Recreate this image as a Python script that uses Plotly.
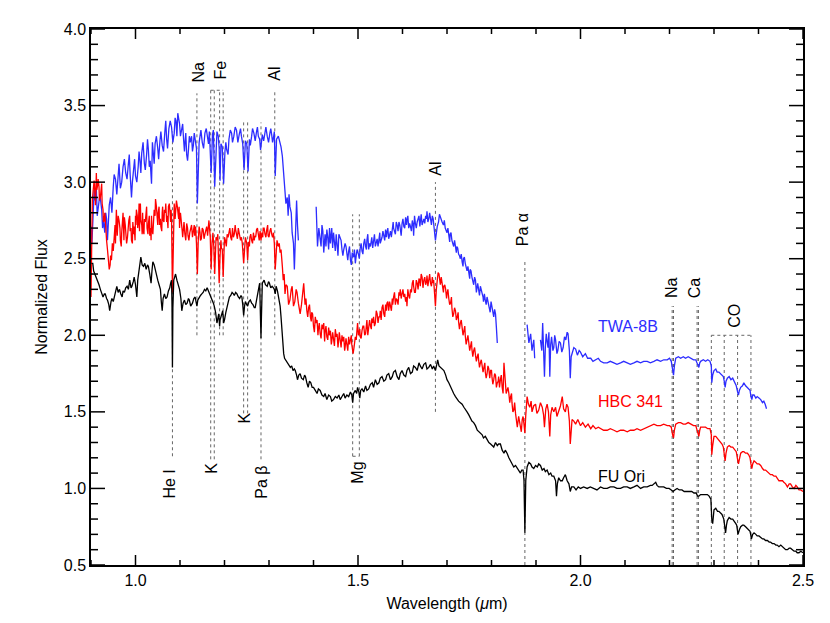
import numpy as np
import plotly.graph_objects as go

# near-infrared spectra (wavelength in micron, normalized flux)
# None marks a gap in the spectrum (telluric bands)
twa8b = [
    (0.900, 2.71), (0.905, 2.80), (0.909, 2.88), (0.912, 2.96), (0.917, 2.86), (0.924, 2.82), (0.928, 2.75),
    (0.931, 2.67), (0.935, 2.76), (0.939, 2.73), (0.944, 2.90), (0.950, 2.97), (0.955, 3.02), (0.961, 3.04),
    (0.966, 2.96), (0.972, 3.10), (0.978, 3.06), (0.984, 3.12), (0.988, 3.05), (0.991, 2.90), (0.995, 3.08),
    (1.000, 3.04), (1.006, 3.10), (1.010, 3.14), (1.014, 3.19), (1.020, 3.12), (1.025, 3.18), (1.029, 3.21),
    (1.033, 3.14), (1.036, 2.99), (1.040, 3.20), (1.044, 3.25), (1.050, 3.22), (1.055, 3.27), (1.060, 3.24),
    (1.066, 3.33), (1.070, 3.28), (1.075, 3.35), (1.081, 3.36), (1.087, 3.32), (1.091, 3.40), (1.095, 3.45),
    (1.099, 3.38), (1.104, 3.34), (1.108, 3.28), (1.111, 3.25), (1.115, 3.18), (1.119, 3.21), (1.123, 3.26),
    (1.126, 3.30), (1.130, 3.24), (1.134, 3.27), (1.137, 3.22), (1.139, 2.86), (1.141, 3.20), (1.145, 3.30),
    (1.150, 3.26), (1.156, 3.32), (1.162, 3.29), (1.166, 3.33), (1.170, 3.06), (1.173, 3.31), (1.175, 3.34),
    (1.178, 2.97), (1.181, 3.28), (1.186, 3.30), (1.190, 3.01), (1.192, 3.25), (1.195, 3.23), (1.198, 2.99),
    (1.201, 3.20), (1.205, 3.21), (1.210, 3.28), (1.216, 3.32), (1.221, 3.30), (1.227, 3.34), (1.233, 3.31),
    (1.238, 3.30), (1.241, 3.25), (1.244, 3.08), (1.247, 3.27), (1.250, 3.25), (1.253, 3.07), (1.256, 3.28),
    (1.261, 3.30), (1.266, 3.32), (1.272, 3.33), (1.276, 3.30), (1.281, 3.21), (1.285, 3.31), (1.291, 3.33),
    (1.296, 3.30), (1.302, 3.32), (1.306, 3.31), (1.310, 3.29), (1.314, 3.04), (1.317, 3.28), (1.321, 3.30),
    (1.324, 3.27), (1.327, 3.23), (1.330, 3.17), (1.332, 3.10), (1.334, 3.02), (1.336, 2.97), (1.338, 2.86),
    (1.341, 2.90), (1.343, 2.78), (1.345, 2.92), (1.347, 2.84), (1.350, 2.80), (1.352, 2.67), (1.355, 2.60),
    (1.357, 2.43), (1.360, 2.70), (1.362, 2.88), (1.364, 2.72), (1.366, 2.62), (1.380, None),
    (1.406, 2.84), (1.409, 2.58), (1.412, 2.70), (1.415, 2.64), (1.419, 2.72), (1.423, 2.54), (1.426, 2.66),
    (1.430, 2.69), (1.434, 2.56), (1.438, 2.60), (1.441, 2.70), (1.445, 2.67), (1.449, 2.55), (1.453, 2.58),
    (1.457, 2.66), (1.460, 2.64), (1.464, 2.56), (1.468, 2.56), (1.471, 2.60), (1.475, 2.53), (1.479, 2.55),
    (1.483, 2.49), (1.487, 2.54), (1.490, 2.51), (1.494, 2.47), (1.498, 2.56), (1.501, 2.53), (1.505, 2.57),
    (1.509, 2.55), (1.513, 2.60), (1.517, 2.58), (1.520, 2.62), (1.524, 2.56), (1.528, 2.58), (1.531, 2.64),
    (1.535, 2.61), (1.539, 2.58), (1.543, 2.63), (1.547, 2.65), (1.550, 2.60), (1.554, 2.64), (1.558, 2.64),
    (1.562, 2.69), (1.565, 2.67), (1.569, 2.63), (1.573, 2.68), (1.577, 2.72), (1.580, 2.70), (1.584, 2.66),
    (1.588, 2.72), (1.592, 2.74), (1.595, 2.68), (1.599, 2.73), (1.603, 2.71), (1.607, 2.77), (1.610, 2.75),
    (1.614, 2.70), (1.618, 2.71), (1.622, 2.75), (1.625, 2.65), (1.629, 2.73), (1.633, 2.74), (1.637, 2.78),
    (1.640, 2.75), (1.644, 2.72), (1.648, 2.76), (1.652, 2.78), (1.655, 2.81), (1.659, 2.76), (1.663, 2.75),
    (1.667, 2.78), (1.670, 2.73), (1.674, 2.62), (1.678, 2.71), (1.683, 2.79), (1.686, 2.76), (1.689, 2.74),
    (1.692, 2.72), (1.696, 2.70), (1.700, 2.67), (1.704, 2.64), (1.707, 2.66), (1.711, 2.62), (1.715, 2.58),
    (1.719, 2.56), (1.722, 2.58), (1.726, 2.53), (1.730, 2.50), (1.734, 2.48), (1.737, 2.50), (1.741, 2.47),
    (1.745, 2.42), (1.749, 2.40), (1.752, 2.43), (1.756, 2.38), (1.760, 2.33), (1.764, 2.36), (1.767, 2.31),
    (1.771, 2.30), (1.775, 2.32), (1.779, 2.28), (1.782, 2.22), (1.786, 2.23), (1.790, 2.25), (1.794, 2.19),
    (1.797, 2.15), (1.801, 2.19), (1.805, 2.12), (1.809, 2.14), (1.811, 2.05), (1.813, 1.95), (1.850, None),
    (1.880, 2.07), (1.884, 1.95), (1.888, 2.01), (1.891, 1.90), (1.895, 1.97), (1.897, 1.85), (1.903, None),
    (1.910, 1.97), (1.913, 1.90), (1.915, 2.08), (1.917, 1.95), (1.919, 1.73), (1.921, 1.92), (1.923, 2.01),
    (1.925, 1.96), (1.927, 1.92), (1.929, 2.02), (1.931, 1.73), (1.933, 1.94), (1.935, 1.99), (1.938, 1.90),
    (1.940, 1.92), (1.942, 2.00), (1.944, 1.97), (1.947, 1.88), (1.949, 1.90), (1.952, 1.96), (1.955, 1.95),
    (1.958, 1.89), (1.961, 1.92), (1.964, 1.99), (1.967, 1.97), (1.970, 2.02), (1.972, 2.01), (1.975, 1.90),
    (1.977, 1.72), (1.979, 1.86), (1.981, 1.88), (1.985, 1.92), (1.989, 1.91), (1.993, 1.87), (1.997, 1.90),
    (2.000, 1.89), (2.005, 1.86), (2.011, 1.88), (2.016, 1.85), (2.023, 1.85), (2.028, 1.83), (2.034, 1.84),
    (2.040, 1.85), (2.045, 1.83), (2.052, 1.82), (2.060, 1.82), (2.067, 1.83), (2.075, 1.82), (2.082, 1.81),
    (2.090, 1.82), (2.097, 1.83), (2.105, 1.82), (2.112, 1.81), (2.120, 1.82), (2.127, 1.83), (2.135, 1.82),
    (2.142, 1.83), (2.150, 1.83), (2.157, 1.82), (2.165, 1.83), (2.172, 1.84), (2.180, 1.83), (2.187, 1.84),
    (2.195, 1.84), (2.200, 1.85), (2.204, 1.83), (2.207, 1.76), (2.209, 1.74), (2.211, 1.80), (2.214, 1.85),
    (2.220, 1.86), (2.225, 1.85), (2.231, 1.86), (2.236, 1.85), (2.242, 1.86), (2.248, 1.85), (2.254, 1.84),
    (2.259, 1.84), (2.263, 1.81), (2.266, 1.79), (2.268, 1.82), (2.270, 1.83), (2.276, 1.84), (2.281, 1.83),
    (2.286, 1.84), (2.291, 1.83), (2.294, 1.80), (2.295, 1.69), (2.297, 1.74), (2.300, 1.77), (2.304, 1.78),
    (2.307, 1.76), (2.311, 1.76), (2.315, 1.75), (2.318, 1.74), (2.321, 1.73), (2.323, 1.70), (2.325, 1.66),
    (2.327, 1.70), (2.330, 1.72), (2.334, 1.73), (2.338, 1.71), (2.342, 1.72), (2.345, 1.70), (2.348, 1.69),
    (2.350, 1.67), (2.353, 1.63), (2.355, 1.61), (2.357, 1.64), (2.360, 1.66), (2.364, 1.67), (2.367, 1.69),
    (2.371, 1.67), (2.375, 1.66), (2.378, 1.65), (2.381, 1.64), (2.383, 1.60), (2.385, 1.58), (2.387, 1.61),
    (2.390, 1.61), (2.394, 1.59), (2.397, 1.60), (2.401, 1.59), (2.405, 1.58), (2.409, 1.56), (2.412, 1.57),
    (2.415, 1.55), (2.418, 1.52),
]
# extra readings of the noise envelope (upper / lower excursions) where the spectrum is ragged
twa8b_noise = [
    (0.902, 2.60), (0.907, 2.95), (0.914, 2.78), (0.920, 2.92), (0.926, 2.70), (0.933, 2.80), (0.937, 2.62),
    (0.941, 2.85), (0.947, 2.80), (0.952, 3.05), (0.958, 2.92), (0.963, 3.12), (0.969, 3.00), (0.975, 3.15),
    (0.981, 3.02), (0.986, 3.18), (0.993, 3.00), (0.998, 3.15), (1.003, 3.00), (1.008, 3.20), (1.012, 3.06),
    (1.017, 3.26), (1.022, 3.08), (1.027, 3.28), (1.031, 3.10), (1.038, 3.26), (1.042, 3.12), (1.047, 3.30),
    (1.052, 3.15), (1.057, 3.33), (1.063, 3.20), (1.068, 3.40), (1.072, 3.22), (1.078, 3.40), (1.084, 3.26),
    (1.089, 3.42), (1.093, 3.30), (1.097, 3.42), (1.101, 3.30), (1.106, 3.38), (1.110, 3.20), (1.113, 3.32),
    (1.117, 3.14), (1.121, 3.30), (1.128, 3.20), (1.132, 3.32), (1.143, 3.26), (1.147, 3.34), (1.153, 3.22),
    (1.159, 3.35), (1.164, 3.25), (1.183, 3.33), (1.188, 3.22), (1.203, 3.26), (1.208, 3.18), (1.213, 3.34),
    (1.218, 3.26), (1.224, 3.36), (1.230, 3.26), (1.236, 3.35), (1.258, 3.24), (1.263, 3.35), (1.269, 3.27),
    (1.274, 3.36), (1.279, 3.28), (1.288, 3.27), (1.293, 3.36), (1.299, 3.26), (1.304, 3.35), (1.308, 3.26),
    (1.312, 3.33), (1.417, 2.58), (1.421, 2.68), (1.428, 2.58), (1.432, 2.64), (1.436, 2.70), (1.443, 2.57),
    (1.447, 2.62), (1.451, 2.66), (1.455, 2.52), (1.462, 2.62), (1.466, 2.52), (1.473, 2.58), (1.477, 2.49),
    (1.481, 2.58), (1.485, 2.46), (1.492, 2.56), (1.496, 2.52), (1.503, 2.50), (1.507, 2.60), (1.511, 2.53),
    (1.515, 2.63), (1.519, 2.56), (1.522, 2.66), (1.526, 2.60), (1.533, 2.57), (1.537, 2.66), (1.541, 2.60),
    (1.545, 2.58), (1.549, 2.67), (1.552, 2.62), (1.556, 2.68), (1.560, 2.62), (1.564, 2.64), (1.567, 2.70),
    (1.571, 2.66), (1.575, 2.64), (1.579, 2.74), (1.582, 2.68), (1.586, 2.74), (1.590, 2.68), (1.594, 2.72),
    (1.597, 2.65), (1.601, 2.76), (1.605, 2.70), (1.609, 2.72), (1.612, 2.78), (1.616, 2.73), (1.620, 2.68),
    (1.624, 2.72), (1.627, 2.78), (1.631, 2.70), (1.635, 2.76), (1.639, 2.71), (1.642, 2.79), (1.646, 2.74),
    (1.650, 2.73), (1.654, 2.76), (1.657, 2.74), (1.661, 2.80), (1.665, 2.72), (1.669, 2.76), (1.681, 2.74),
    (1.694, 2.75), (1.698, 2.68), (1.702, 2.70), (1.706, 2.61), (1.709, 2.67), (1.713, 2.60), (1.717, 2.62),
    (1.721, 2.54), (1.724, 2.57), (1.728, 2.52), (1.732, 2.53), (1.736, 2.45), (1.739, 2.51), (1.743, 2.44),
    (1.747, 2.45), (1.751, 2.37), (1.754, 2.42), (1.758, 2.35), (1.762, 2.38), (1.766, 2.28), (1.769, 2.34),
    (1.773, 2.26), (1.777, 2.30), (1.781, 2.25), (1.784, 2.27), (1.788, 2.20), (1.792, 2.22), (1.796, 2.18),
    (1.799, 2.22), (1.803, 2.15), (1.807, 2.17),
]

hbc341 = [
    (0.900, 2.25), (0.901, 2.55), (0.903, 2.88), (0.905, 2.95), (0.907, 3.01), (0.909, 2.92), (0.912, 3.06),
    (0.915, 2.98), (0.918, 2.97), (0.921, 2.90), (0.924, 2.99), (0.927, 2.82), (0.930, 2.75), (0.933, 2.67),
    (0.937, 2.56), (0.939, 2.50), (0.941, 2.43), (0.944, 2.52), (0.946, 2.49), (0.949, 2.58), (0.952, 2.67),
    (0.955, 2.60), (0.957, 2.82), (0.960, 2.70), (0.963, 2.75), (0.966, 2.62), (0.969, 2.67), (0.972, 2.80),
    (0.975, 2.77), (0.978, 2.66), (0.980, 2.60), (0.983, 2.72), (0.985, 2.75), (0.988, 2.68), (0.991, 2.62),
    (0.994, 2.74), (0.997, 2.71), (1.000, 2.78), (1.002, 2.82), (1.005, 2.70), (1.008, 2.86), (1.010, 2.80),
    (1.012, 2.75), (1.015, 2.66), (1.017, 2.69), (1.020, 2.76), (1.023, 2.80), (1.026, 2.70), (1.029, 2.73),
    (1.032, 2.65), (1.035, 2.62), (1.037, 2.70), (1.040, 2.75), (1.042, 2.82), (1.045, 2.89), (1.048, 2.78),
    (1.051, 2.80), (1.054, 2.72), (1.057, 2.71), (1.060, 2.80), (1.062, 2.75), (1.065, 2.82), (1.068, 2.86),
    (1.071, 2.78), (1.074, 2.84), (1.077, 2.79), (1.080, 2.82), (1.083, 2.28), (1.085, 2.75), (1.087, 2.86),
    (1.090, 2.82), (1.092, 2.88), (1.095, 2.79), (1.098, 2.84), (1.100, 2.77), (1.102, 2.75), (1.105, 2.68),
    (1.107, 2.71), (1.111, 2.66), (1.115, 2.73), (1.118, 2.65), (1.122, 2.67), (1.126, 2.72), (1.130, 2.69),
    (1.133, 2.65), (1.135, 2.71), (1.137, 2.60), (1.139, 2.40), (1.141, 2.62), (1.145, 2.67), (1.148, 2.63),
    (1.152, 2.69), (1.156, 2.66), (1.160, 2.71), (1.163, 2.68), (1.165, 2.75), (1.168, 2.64), (1.170, 2.43),
    (1.172, 2.60), (1.174, 2.67), (1.176, 2.58), (1.178, 2.40), (1.180, 2.56), (1.183, 2.62), (1.186, 2.55),
    (1.188, 2.34), (1.190, 2.52), (1.192, 2.62), (1.195, 2.56), (1.197, 2.38), (1.199, 2.55), (1.202, 2.62),
    (1.206, 2.66), (1.210, 2.67), (1.214, 2.64), (1.218, 2.70), (1.222, 2.66), (1.225, 2.69), (1.229, 2.63),
    (1.233, 2.67), (1.236, 2.62), (1.238, 2.64), (1.240, 2.60), (1.243, 2.47), (1.245, 2.60), (1.247, 2.64),
    (1.250, 2.60), (1.252, 2.49), (1.254, 2.61), (1.257, 2.64), (1.261, 2.62), (1.265, 2.67), (1.268, 2.65),
    (1.272, 2.69), (1.276, 2.66), (1.280, 2.68), (1.282, 2.62), (1.284, 2.67), (1.287, 2.70), (1.291, 2.66),
    (1.295, 2.69), (1.298, 2.65), (1.302, 2.68), (1.306, 2.66), (1.310, 2.67), (1.312, 2.60), (1.314, 2.43),
    (1.316, 2.58), (1.318, 2.62), (1.321, 2.58), (1.323, 2.60), (1.325, 2.54), (1.327, 2.56), (1.330, 2.45),
    (1.332, 2.36), (1.334, 2.40), (1.336, 2.27), (1.338, 2.33), (1.341, 2.32), (1.344, 2.20), (1.347, 2.23),
    (1.350, 2.30), (1.352, 2.32), (1.355, 2.19), (1.358, 2.22), (1.361, 2.30), (1.363, 2.28), (1.366, 2.21),
    (1.370, 2.14), (1.373, 2.20), (1.376, 2.28), (1.378, 2.34), (1.381, 2.20), (1.385, 2.16), (1.389, 2.18),
    (1.393, 2.12), (1.396, 2.15), (1.400, 2.06), (1.404, 2.12), (1.408, 2.10), (1.411, 2.04), (1.415, 2.01),
    (1.419, 2.07), (1.423, 2.08), (1.426, 2.02), (1.430, 1.99), (1.434, 2.05), (1.438, 2.03), (1.441, 1.96),
    (1.445, 1.97), (1.449, 2.04), (1.453, 2.01), (1.456, 1.95), (1.460, 1.95), (1.464, 2.00), (1.468, 1.99),
    (1.471, 1.92), (1.475, 1.93), (1.479, 1.99), (1.483, 1.97), (1.486, 1.94), (1.489, 1.88), (1.492, 1.95),
    (1.494, 1.99), (1.497, 2.03), (1.499, 2.08), (1.502, 2.02), (1.505, 1.99), (1.509, 2.03), (1.513, 2.06),
    (1.517, 2.01), (1.520, 2.10), (1.524, 2.04), (1.528, 2.06), (1.531, 2.11), (1.535, 2.12), (1.539, 2.08),
    (1.543, 2.14), (1.547, 2.12), (1.550, 2.16), (1.554, 2.18), (1.558, 2.14), (1.562, 2.20), (1.565, 2.21),
    (1.569, 2.16), (1.573, 2.19), (1.577, 2.24), (1.580, 2.25), (1.584, 2.20), (1.588, 2.23), (1.592, 2.28),
    (1.595, 2.30), (1.599, 2.27), (1.603, 2.25), (1.607, 2.22), (1.610, 2.19), (1.614, 2.26), (1.618, 2.30),
    (1.622, 2.34), (1.625, 2.32), (1.629, 2.28), (1.633, 2.34), (1.637, 2.37), (1.640, 2.32), (1.644, 2.38),
    (1.648, 2.36), (1.652, 2.33), (1.655, 2.39), (1.659, 2.36), (1.663, 2.34), (1.667, 2.38), (1.670, 2.36),
    (1.672, 2.28), (1.674, 2.19), (1.676, 2.30), (1.680, 2.41), (1.683, 2.36), (1.687, 2.38), (1.690, 2.34),
    (1.693, 2.32), (1.697, 2.30), (1.700, 2.27), (1.704, 2.24), (1.708, 2.21), (1.711, 2.18), (1.715, 2.14),
    (1.719, 2.16), (1.723, 2.12), (1.726, 2.09), (1.730, 2.08), (1.734, 2.05), (1.738, 2.03), (1.741, 2.00),
    (1.745, 1.97), (1.749, 1.95), (1.753, 1.93), (1.756, 1.91), (1.760, 1.90), (1.764, 1.87), (1.768, 1.86),
    (1.771, 1.84), (1.775, 1.82), (1.779, 1.80), (1.783, 1.79), (1.786, 1.76), (1.790, 1.75), (1.794, 1.78),
    (1.798, 1.77), (1.801, 1.73), (1.805, 1.71), (1.809, 1.74), (1.813, 1.69), (1.816, 1.73), (1.820, 1.71),
    (1.824, 1.66), (1.828, 1.82), (1.831, 1.68), (1.835, 1.64), (1.839, 1.62), (1.843, 1.60), (1.846, 1.56),
    (1.850, 1.51), (1.854, 1.49), (1.858, 1.40), (1.861, 1.47), (1.864, 1.43), (1.867, 1.37), (1.869, 1.45),
    (1.871, 1.47), (1.873, 1.42), (1.875, 1.36), (1.877, 1.48), (1.880, 1.60), (1.883, 1.55), (1.886, 1.53),
    (1.889, 1.57), (1.891, 1.50), (1.895, 1.54), (1.899, 1.55), (1.902, 1.49), (1.906, 1.51), (1.910, 1.56),
    (1.914, 1.53), (1.917, 1.48), (1.919, 1.40), (1.922, 1.52), (1.925, 1.55), (1.928, 1.50), (1.931, 1.34),
    (1.933, 1.48), (1.936, 1.53), (1.940, 1.50), (1.944, 1.53), (1.947, 1.47), (1.951, 1.51), (1.955, 1.54),
    (1.959, 1.60), (1.962, 1.52), (1.966, 1.50), (1.969, 1.55), (1.972, 1.53), (1.975, 1.44), (1.977, 1.29),
    (1.979, 1.40), (1.981, 1.45), (1.985, 1.44), (1.989, 1.42), (1.994, 1.45), (2.000, 1.41), (2.005, 1.43),
    (2.011, 1.40), (2.017, 1.42), (2.023, 1.39), (2.028, 1.41), (2.034, 1.39), (2.040, 1.40), (2.045, 1.39),
    (2.052, 1.38), (2.060, 1.38), (2.067, 1.39), (2.075, 1.38), (2.082, 1.37), (2.090, 1.38), (2.097, 1.38),
    (2.105, 1.37), (2.112, 1.38), (2.120, 1.38), (2.127, 1.39), (2.135, 1.38), (2.142, 1.39), (2.150, 1.40),
    (2.157, 1.41), (2.165, 1.42), (2.172, 1.41), (2.180, 1.41), (2.187, 1.42), (2.195, 1.41), (2.200, 1.41),
    (2.204, 1.40), (2.207, 1.35), (2.209, 1.33), (2.211, 1.38), (2.214, 1.42), (2.220, 1.43), (2.225, 1.43),
    (2.231, 1.42), (2.236, 1.42), (2.242, 1.43), (2.248, 1.42), (2.254, 1.41), (2.259, 1.41), (2.263, 1.37),
    (2.266, 1.34), (2.268, 1.38), (2.270, 1.40), (2.276, 1.40), (2.281, 1.40), (2.286, 1.39), (2.291, 1.39),
    (2.294, 1.35), (2.295, 1.22), (2.297, 1.28), (2.300, 1.34), (2.304, 1.34), (2.307, 1.33), (2.311, 1.32),
    (2.315, 1.30), (2.318, 1.29), (2.321, 1.27), (2.323, 1.23), (2.325, 1.18), (2.327, 1.23), (2.330, 1.27),
    (2.334, 1.28), (2.338, 1.27), (2.342, 1.27), (2.345, 1.26), (2.348, 1.25), (2.350, 1.24), (2.353, 1.19),
    (2.355, 1.16), (2.357, 1.19), (2.360, 1.23), (2.364, 1.24), (2.367, 1.24), (2.371, 1.23), (2.375, 1.23),
    (2.378, 1.22), (2.381, 1.20), (2.383, 1.16), (2.385, 1.13), (2.387, 1.16), (2.390, 1.18), (2.394, 1.17),
    (2.397, 1.16), (2.401, 1.16), (2.405, 1.15), (2.409, 1.13), (2.412, 1.12), (2.416, 1.12), (2.420, 1.11),
    (2.424, 1.10), (2.427, 1.09), (2.431, 1.09), (2.435, 1.08), (2.439, 1.08), (2.442, 1.07), (2.446, 1.05),
    (2.450, 1.05), (2.454, 1.05), (2.457, 1.04), (2.461, 1.03), (2.465, 1.01), (2.469, 1.03), (2.472, 1.03),
    (2.476, 1.01), (2.480, 1.00), (2.484, 1.02), (2.487, 1.01), (2.491, 0.99), (2.495, 0.99), (2.500, 0.98),
]
hbc341_noise = [
    (0.910, 2.85), (0.913, 2.95), (0.916, 3.02), (0.919, 2.88), (0.922, 2.96), (0.925, 2.86), (0.928, 2.74),
    (0.931, 2.80), (0.935, 2.62), (0.943, 2.46), (0.948, 2.60), (0.950, 2.55), (0.954, 2.72), (0.959, 2.65),
    (0.961, 2.78), (0.965, 2.70), (0.968, 2.58), (0.971, 2.73), (0.974, 2.62), (0.977, 2.72), (0.982, 2.64),
    (0.987, 2.78), (0.990, 2.70), (0.993, 2.60), (0.996, 2.66), (0.999, 2.62), (1.001, 2.72), (1.004, 2.78),
    (1.007, 2.76), (1.009, 2.68), (1.011, 2.86), (1.014, 2.72), (1.016, 2.80), (1.019, 2.66), (1.022, 2.74),
    (1.025, 2.84), (1.028, 2.66), (1.031, 2.78), (1.034, 2.70), (1.036, 2.78), (1.039, 2.66), (1.041, 2.70),
    (1.044, 2.78), (1.047, 2.84), (1.050, 2.72), (1.053, 2.84), (1.056, 2.76), (1.059, 2.68), (1.061, 2.84),
    (1.064, 2.74), (1.067, 2.80), (1.070, 2.74), (1.073, 2.70), (1.076, 2.86), (1.079, 2.74), (1.081, 2.76),
    (1.086, 2.80), (1.089, 2.76), (1.091, 2.78), (1.094, 2.84), (1.097, 2.76), (1.099, 2.70), (1.101, 2.80),
    (1.104, 2.72), (1.106, 2.64), (1.109, 2.74), (1.113, 2.62), (1.117, 2.70), (1.120, 2.62), (1.124, 2.70),
    (1.128, 2.64), (1.132, 2.72), (1.143, 2.71), (1.146, 2.62), (1.150, 2.70), (1.154, 2.63), (1.158, 2.70),
    (1.162, 2.65), (1.181, 2.64), (1.185, 2.66), (1.193, 2.57), (1.200, 2.64), (1.204, 2.58), (1.208, 2.64),
    (1.212, 2.70), (1.216, 2.62), (1.220, 2.64), (1.224, 2.72), (1.227, 2.64), (1.231, 2.70), (1.234, 2.64),
    (1.256, 2.58), (1.259, 2.66), (1.263, 2.60), (1.267, 2.62), (1.270, 2.64), (1.274, 2.70), (1.278, 2.62),
    (1.286, 2.64), (1.289, 2.70), (1.293, 2.64), (1.297, 2.72), (1.300, 2.64), (1.304, 2.70), (1.308, 2.64),
    (1.383, 2.24), (1.387, 2.12), (1.391, 2.20), (1.395, 2.09), (1.398, 2.14), (1.402, 2.02), (1.406, 2.08),
    (1.410, 2.00), (1.413, 2.08), (1.417, 1.98), (1.421, 2.04), (1.425, 1.96), (1.428, 2.06), (1.432, 1.97),
    (1.436, 2.00), (1.440, 1.94), (1.443, 2.02), (1.447, 1.93), (1.451, 1.99), (1.455, 1.92), (1.458, 2.02),
    (1.462, 1.92), (1.466, 1.96), (1.470, 1.90), (1.473, 1.98), (1.477, 1.90), (1.481, 1.94), (1.485, 2.00),
    (1.491, 1.92), (1.496, 1.97), (1.501, 2.00), (1.504, 2.04), (1.507, 1.98), (1.511, 2.06), (1.515, 2.00),
    (1.518, 2.05), (1.522, 2.00), (1.526, 2.10), (1.530, 2.04), (1.533, 2.08), (1.537, 2.06), (1.541, 2.16),
    (1.545, 2.08), (1.549, 2.12), (1.552, 2.10), (1.556, 2.20), (1.560, 2.12), (1.564, 2.16), (1.567, 2.22),
    (1.571, 2.22), (1.575, 2.16), (1.578, 2.20), (1.582, 2.28), (1.586, 2.24), (1.590, 2.20), (1.594, 2.26),
    (1.597, 2.24), (1.601, 2.30), (1.605, 2.27), (1.609, 2.25), (1.612, 2.30), (1.616, 2.24), (1.620, 2.28),
    (1.624, 2.36), (1.627, 2.28), (1.631, 2.36), (1.635, 2.30), (1.639, 2.36), (1.642, 2.40), (1.646, 2.31),
    (1.650, 2.38), (1.654, 2.35), (1.657, 2.32), (1.661, 2.40), (1.665, 2.32), (1.669, 2.34), (1.678, 2.36),
    (1.682, 2.40), (1.685, 2.33), (1.688, 2.36), (1.692, 2.28), (1.695, 2.33), (1.699, 2.24), (1.702, 2.30),
    (1.706, 2.20), (1.710, 2.25), (1.713, 2.12), (1.717, 2.18), (1.721, 2.10), (1.725, 2.15), (1.728, 2.04),
    (1.732, 2.10), (1.736, 2.00), (1.740, 2.06), (1.743, 1.94), (1.747, 2.00), (1.751, 1.90), (1.755, 1.96),
    (1.758, 1.86), (1.762, 1.92), (1.766, 1.83), (1.770, 1.88), (1.773, 1.79), (1.777, 1.84), (1.781, 1.76),
    (1.785, 1.82), (1.788, 1.72), (1.792, 1.80), (1.796, 1.72), (1.800, 1.77), (1.803, 1.68), (1.807, 1.75),
    (1.811, 1.66), (1.815, 1.70), (1.818, 1.66), (1.822, 1.74), (1.826, 1.62), (1.833, 1.62), (1.837, 1.66),
    (1.841, 1.56), (1.845, 1.62), (1.848, 1.50), (1.852, 1.56), (1.856, 1.45),
]

fuori = [
    (0.901, 2.47), (0.904, 2.47), (0.906, 2.42), (0.909, 2.40), (0.912, 2.38), (0.915, 2.36), (0.918, 2.33),
    (0.921, 2.30), (0.924, 2.28), (0.927, 2.25), (0.930, 2.27), (0.932, 2.27), (0.935, 2.24), (0.937, 2.23),
    (0.940, 2.20), (0.942, 2.16), (0.945, 2.22), (0.947, 2.24), (0.950, 2.22), (0.952, 2.25), (0.955, 2.28),
    (0.958, 2.32), (0.961, 2.28), (0.964, 2.30), (0.967, 2.27), (0.970, 2.25), (0.972, 2.29), (0.975, 2.28),
    (0.978, 2.31), (0.981, 2.32), (0.984, 2.30), (0.987, 2.36), (0.990, 2.31), (0.992, 2.32), (0.995, 2.35),
    (0.997, 2.38), (1.000, 2.33), (1.003, 2.25), (1.005, 2.36), (1.008, 2.43), (1.010, 2.47), (1.012, 2.51),
    (1.015, 2.46), (1.018, 2.45), (1.021, 2.47), (1.024, 2.43), (1.027, 2.46), (1.029, 2.45), (1.032, 2.40),
    (1.035, 2.34), (1.037, 2.42), (1.039, 2.48), (1.042, 2.46), (1.044, 2.43), (1.047, 2.40), (1.050, 2.36),
    (1.053, 2.33), (1.056, 2.30), (1.058, 2.22), (1.060, 2.16), (1.062, 2.24), (1.065, 2.27), (1.068, 2.24),
    (1.071, 2.25), (1.074, 2.29), (1.077, 2.31), (1.079, 2.34), (1.081, 2.36), (1.082, 2.20), (1.083, 1.79),
    (1.084, 2.18), (1.086, 2.36), (1.088, 2.38), (1.090, 2.40), (1.093, 2.36), (1.095, 2.34), (1.097, 2.32),
    (1.099, 2.30), (1.102, 2.24), (1.104, 2.16), (1.107, 2.21), (1.110, 2.23), (1.113, 2.20), (1.116, 2.21),
    (1.119, 2.24), (1.121, 2.23), (1.124, 2.19), (1.128, 2.21), (1.131, 2.24), (1.134, 2.25), (1.136, 2.22),
    (1.138, 2.19), (1.140, 2.23), (1.143, 2.25), (1.146, 2.26), (1.149, 2.27), (1.152, 2.28), (1.155, 2.30),
    (1.158, 2.29), (1.161, 2.31), (1.164, 2.29), (1.167, 2.27), (1.170, 2.24), (1.172, 2.23), (1.175, 2.21),
    (1.177, 2.19), (1.180, 2.15), (1.183, 2.08), (1.185, 2.12), (1.187, 2.14), (1.189, 2.06), (1.190, 2.10),
    (1.193, 2.13), (1.196, 2.16), (1.198, 2.08), (1.200, 2.10), (1.203, 2.15), (1.206, 2.19), (1.209, 2.22),
    (1.211, 2.25), (1.214, 2.26), (1.217, 2.28), (1.220, 2.27), (1.222, 2.26), (1.225, 2.28), (1.228, 2.27),
    (1.231, 2.25), (1.234, 2.24), (1.237, 2.26), (1.239, 2.25), (1.241, 2.20), (1.243, 2.13), (1.245, 2.19),
    (1.247, 2.22), (1.250, 2.20), (1.252, 2.19), (1.255, 2.22), (1.258, 2.23), (1.261, 2.21), (1.264, 2.20),
    (1.267, 2.18), (1.269, 2.18), (1.272, 2.23), (1.274, 2.27), (1.277, 2.31), (1.279, 2.34), (1.281, 2.10),
    (1.282, 1.98), (1.283, 2.12), (1.285, 2.34), (1.287, 2.35), (1.289, 2.36), (1.292, 2.33), (1.296, 2.32),
    (1.299, 2.35), (1.301, 2.34), (1.304, 2.31), (1.307, 2.32), (1.310, 2.31), (1.312, 2.30), (1.314, 2.27),
    (1.316, 2.32), (1.319, 2.29), (1.322, 2.25), (1.325, 2.19), (1.327, 2.12), (1.329, 2.03), (1.331, 1.95),
    (1.333, 1.88), (1.335, 1.85), (1.337, 1.84), (1.340, 1.83), (1.342, 1.82), (1.345, 1.80), (1.348, 1.79),
    (1.351, 1.80), (1.354, 1.77), (1.357, 1.78), (1.359, 1.77), (1.362, 1.74), (1.364, 1.71), (1.367, 1.74),
    (1.370, 1.75), (1.373, 1.72), (1.377, 1.71), (1.380, 1.74), (1.382, 1.73), (1.385, 1.69), (1.388, 1.66),
    (1.391, 1.70), (1.394, 1.69), (1.397, 1.66), (1.400, 1.66), (1.404, 1.64), (1.408, 1.62), (1.411, 1.65),
    (1.415, 1.64), (1.419, 1.61), (1.423, 1.60), (1.426, 1.62), (1.430, 1.58), (1.434, 1.61), (1.438, 1.60),
    (1.441, 1.57), (1.445, 1.58), (1.449, 1.60), (1.453, 1.59), (1.457, 1.61), (1.460, 1.58), (1.464, 1.60),
    (1.468, 1.62), (1.471, 1.59), (1.475, 1.61), (1.479, 1.60), (1.483, 1.63), (1.486, 1.61), (1.488, 1.56),
    (1.490, 1.62), (1.494, 1.64), (1.497, 1.62), (1.499, 1.66), (1.502, 1.63), (1.504, 1.59), (1.506, 1.64),
    (1.509, 1.65), (1.513, 1.63), (1.517, 1.67), (1.520, 1.64), (1.524, 1.65), (1.528, 1.68), (1.532, 1.69),
    (1.535, 1.66), (1.539, 1.71), (1.543, 1.68), (1.547, 1.69), (1.550, 1.72), (1.554, 1.73), (1.558, 1.70),
    (1.562, 1.71), (1.565, 1.74), (1.569, 1.75), (1.573, 1.71), (1.577, 1.73), (1.580, 1.76), (1.584, 1.77),
    (1.588, 1.73), (1.592, 1.71), (1.595, 1.75), (1.599, 1.77), (1.603, 1.74), (1.607, 1.73), (1.610, 1.77),
    (1.614, 1.79), (1.618, 1.75), (1.622, 1.76), (1.625, 1.80), (1.629, 1.79), (1.633, 1.77), (1.637, 1.82),
    (1.640, 1.80), (1.644, 1.78), (1.648, 1.81), (1.652, 1.82), (1.655, 1.78), (1.659, 1.79), (1.663, 1.81),
    (1.667, 1.78), (1.670, 1.80), (1.674, 1.77), (1.677, 1.81), (1.679, 1.84), (1.682, 1.80), (1.685, 1.79),
    (1.689, 1.78), (1.693, 1.77), (1.697, 1.74), (1.700, 1.71), (1.704, 1.69), (1.708, 1.66), (1.711, 1.64),
    (1.715, 1.62), (1.719, 1.60), (1.723, 1.58), (1.726, 1.57), (1.730, 1.56), (1.734, 1.55), (1.738, 1.53),
    (1.741, 1.52), (1.745, 1.50), (1.749, 1.48), (1.753, 1.46), (1.756, 1.44), (1.760, 1.43), (1.764, 1.41),
    (1.768, 1.38), (1.771, 1.37), (1.775, 1.36), (1.779, 1.35), (1.782, 1.33), (1.786, 1.34), (1.790, 1.32),
    (1.794, 1.30), (1.798, 1.29), (1.801, 1.28), (1.805, 1.27), (1.809, 1.30), (1.813, 1.28), (1.816, 1.29),
    (1.820, 1.29), (1.824, 1.25), (1.828, 1.23), (1.831, 1.25), (1.835, 1.23), (1.839, 1.20), (1.843, 1.18),
    (1.846, 1.16), (1.850, 1.14), (1.854, 1.15), (1.858, 1.13), (1.861, 1.12), (1.865, 1.10), (1.868, 1.12),
    (1.871, 1.12), (1.873, 1.05), (1.875, 0.71), (1.877, 1.05), (1.880, 1.14), (1.884, 1.17), (1.888, 1.16),
    (1.891, 1.14), (1.895, 1.13), (1.899, 1.15), (1.903, 1.14), (1.906, 1.16), (1.910, 1.15), (1.914, 1.12),
    (1.918, 1.13), (1.921, 1.11), (1.925, 1.12), (1.929, 1.09), (1.933, 1.10), (1.936, 1.08), (1.940, 1.08),
    (1.944, 1.05), (1.946, 0.95), (1.948, 1.03), (1.951, 1.07), (1.955, 1.05), (1.959, 1.05), (1.962, 1.07),
    (1.966, 1.09), (1.970, 1.05), (1.974, 1.03), (1.977, 0.98), (1.980, 1.01), (1.985, 1.01), (1.990, 0.99),
    (1.995, 1.01), (2.000, 1.00), (2.007, 1.01), (2.015, 1.00), (2.022, 1.01), (2.030, 1.00), (2.037, 0.99),
    (2.045, 1.01), (2.052, 1.00), (2.060, 1.00), (2.067, 1.01), (2.075, 1.01), (2.082, 1.00), (2.090, 1.00),
    (2.097, 1.01), (2.105, 1.01), (2.112, 1.00), (2.120, 1.01), (2.127, 1.02), (2.135, 1.00), (2.142, 1.01),
    (2.150, 1.01), (2.157, 1.02), (2.161, 1.02), (2.165, 1.03), (2.169, 1.04), (2.172, 1.02), (2.176, 1.01),
    (2.180, 1.01), (2.187, 1.01), (2.193, 1.00), (2.199, 1.00), (2.204, 0.99), (2.208, 0.98), (2.212, 0.99),
    (2.217, 1.00), (2.222, 0.99), (2.228, 0.99), (2.233, 0.98), (2.237, 0.98), (2.244, 0.98), (2.250, 0.98),
    (2.255, 0.97), (2.260, 0.97), (2.263, 0.95), (2.266, 0.95), (2.270, 0.96), (2.274, 0.96), (2.280, 0.96),
    (2.285, 0.96), (2.289, 0.95), (2.293, 0.93), (2.295, 0.80), (2.297, 0.77), (2.299, 0.83), (2.300, 0.86),
    (2.304, 0.87), (2.308, 0.85), (2.311, 0.85), (2.315, 0.84), (2.318, 0.83), (2.322, 0.80), (2.324, 0.74),
    (2.326, 0.71), (2.328, 0.76), (2.330, 0.79), (2.334, 0.81), (2.338, 0.80), (2.342, 0.80), (2.345, 0.79),
    (2.349, 0.77), (2.351, 0.76), (2.353, 0.72), (2.354, 0.70), (2.357, 0.73), (2.360, 0.75), (2.364, 0.76),
    (2.367, 0.76), (2.371, 0.75), (2.375, 0.74), (2.378, 0.73), (2.381, 0.72), (2.383, 0.69), (2.384, 0.67),
    (2.387, 0.70), (2.390, 0.71), (2.394, 0.70), (2.397, 0.69), (2.401, 0.69), (2.405, 0.68), (2.409, 0.67),
    (2.412, 0.67), (2.416, 0.66), (2.420, 0.66), (2.424, 0.65), (2.427, 0.65), (2.431, 0.64), (2.435, 0.64),
    (2.439, 0.63), (2.442, 0.63), (2.446, 0.62), (2.450, 0.63), (2.454, 0.62), (2.457, 0.61), (2.461, 0.60),
    (2.465, 0.60), (2.469, 0.61), (2.472, 0.61), (2.476, 0.60), (2.480, 0.59), (2.484, 0.59), (2.487, 0.58),
    (2.491, 0.58), (2.495, 0.59), (2.500, 0.58),
]

# identified lines: wavelength, bottom and top of the dotted marker (flux units)
line_wl = [1.083, 1.138, 1.169, 1.177, 1.189, 1.197, 1.243, 1.252, 1.282, 1.313, 1.488, 1.503, 1.674,
           1.875, 2.206, 2.209, 2.262, 2.265, 2.294, 2.323, 2.353, 2.383]
line_lo = [1.21, 2.00, 1.19, 1.19, 2.00, 2.00, 1.49, 1.49, 1.19, 2.00, 1.21, 1.21, 1.50,
           0.50, 0.50, 0.50, 0.50, 0.50, 0.50, 0.50, 0.50, 0.50]
line_hi = [3.33, 3.58, 3.60, 3.60, 3.60, 3.60, 3.39, 3.39, 3.39, 3.59, 2.79, 2.79, 3.00,
           2.49, 2.19, 2.19, 2.19, 2.19, 2.00, 2.00, 2.00, 2.00]
# horizontal ties joining groups of lines: (start, end, level)
ties = [(1.169, 1.197, 3.60), (1.488, 1.503, 1.21), (2.294, 2.383, 2.00)]

line_names = ["He I", "Na", "K", "Fe", "K", "Pa β", "Al", "Mg", "Al", "Pa α", "Na", "Ca", "CO"]
name_x = [1.077, 1.142, 1.170, 1.190, 1.245, 1.283, 1.312, 1.499, 1.674, 1.870, 2.206, 2.256, 2.346]
name_y = [1.03, 3.72, 1.13, 3.73, 1.46, 1.04, 3.71, 1.10, 3.09, 2.69, 2.31, 2.31, 2.13]

stars = ["TWA-8B", "HBC 341", "FU Ori"]
star_colors = ["rgb(45,45,255)", "rgb(255,0,0)", "black"]
star_lab_x = [2.106, 2.112, 2.092]
star_lab_y = [2.06, 1.57, 1.08]

FONT = "Liberation Sans, Arial, sans-serif"
XR = [0.9, 2.5]
YR = [0.5, 4.0]
W, H = 822, 615
M = dict(l=83, r=27, t=21, b=58)

spectra = [
    sorted(twa8b + twa8b_noise, key=lambda p: p[0]),
    sorted(hbc341 + hbc341_noise, key=lambda p: p[0]),
    fuori,
]

fig = go.Figure()
for spec, name, col in zip(spectra, stars, star_colors):
    fig.add_trace(go.Scatter(
        x=[p[0] for p in spec], y=[p[1] for p in spec], mode="lines", name=name,
        line=dict(color=col, width=1.3), connectgaps=False, showlegend=False,
    ))

shapes = []
for wl, lo, hi in zip(line_wl, line_lo, line_hi):
    shapes.append(dict(type="line", xref="x", yref="y", x0=wl, x1=wl, y0=lo, y1=hi,
                       line=dict(color="#666666", width=1, dash="dot"), layer="below"))
for a, b, lev in ties:
    shapes.append(dict(type="line", xref="x", yref="y", x0=a, x1=b, y0=lev, y1=lev,
                       line=dict(color="#666666", width=1, dash="dot"), layer="below"))

# IDL-style inward tick marks on all four sides (major every 0.5, minor every 0.1)
xpx = (W - M["l"] - M["r"]) / (XR[1] - XR[0])   # pixels per micron
ypx = (H - M["t"] - M["b"]) / (YR[1] - YR[0])   # pixels per flux unit
tick_line = dict(color="black", width=1.5)
for v in np.arange(XR[0], XR[1] + 1e-9, 0.1):
    v = round(float(v), 2)
    ln = (10.0 if abs(v * 2 - round(v * 2)) < 1e-6 else 5.0) / ypx
    shapes.append(dict(type="line", xref="x", yref="y", x0=v, x1=v, y0=YR[0], y1=YR[0] + ln,
                       line=tick_line, layer="above"))
    shapes.append(dict(type="line", xref="x", yref="y", x0=v, x1=v, y0=YR[1], y1=YR[1] - ln,
                       line=tick_line, layer="above"))
for v in np.arange(YR[0], YR[1] + 1e-9, 0.1):
    v = round(float(v), 2)
    ln = (14.0 if abs(v * 2 - round(v * 2)) < 1e-6 else 7.0) / xpx
    shapes.append(dict(type="line", xref="x", yref="y", x0=XR[0], x1=XR[0] + ln, y0=v, y1=v,
                       line=tick_line, layer="above"))
    shapes.append(dict(type="line", xref="x", yref="y", x0=XR[1], x1=XR[1] - ln, y0=v, y1=v,
                       line=tick_line, layer="above"))

annotations = []
for t, x, y in zip(line_names, name_x, name_y):
    annotations.append(dict(x=x, y=y, xref="x", yref="y", text=t, showarrow=False, textangle=-90,
                            font=dict(family=FONT, size=16, color="black")))
for t, x, y, c in zip(stars, star_lab_x, star_lab_y, star_colors):
    annotations.append(dict(x=x, y=y, xref="x", yref="y", text=t, showarrow=False,
                            font=dict(family=FONT, size=16, color=c)))

axis_common = dict(showline=True, linecolor="black", linewidth=1.5, mirror=True,
                   ticks="", showgrid=False, zeroline=False, tickformat=".1f",
                   tickfont=dict(family=FONT, size=16, color="black"))

fig.update_layout(
    width=W, height=H, margin=M,
    paper_bgcolor="white", plot_bgcolor="white",
    shapes=shapes, annotations=annotations,
    xaxis=dict(range=XR, tick0=1.0, dtick=0.5,
               title=dict(text="Wavelength (<i>μ</i>m)", font=dict(family=FONT, size=16, color="black"),
                          standoff=10),
               **axis_common),
    yaxis=dict(range=YR, tick0=0.5, dtick=0.5,
               title=dict(text="Normalized Flux", font=dict(family=FONT, size=16, color="black"),
                          standoff=12),
               **axis_common),
)

fig.write_html("out.html")
